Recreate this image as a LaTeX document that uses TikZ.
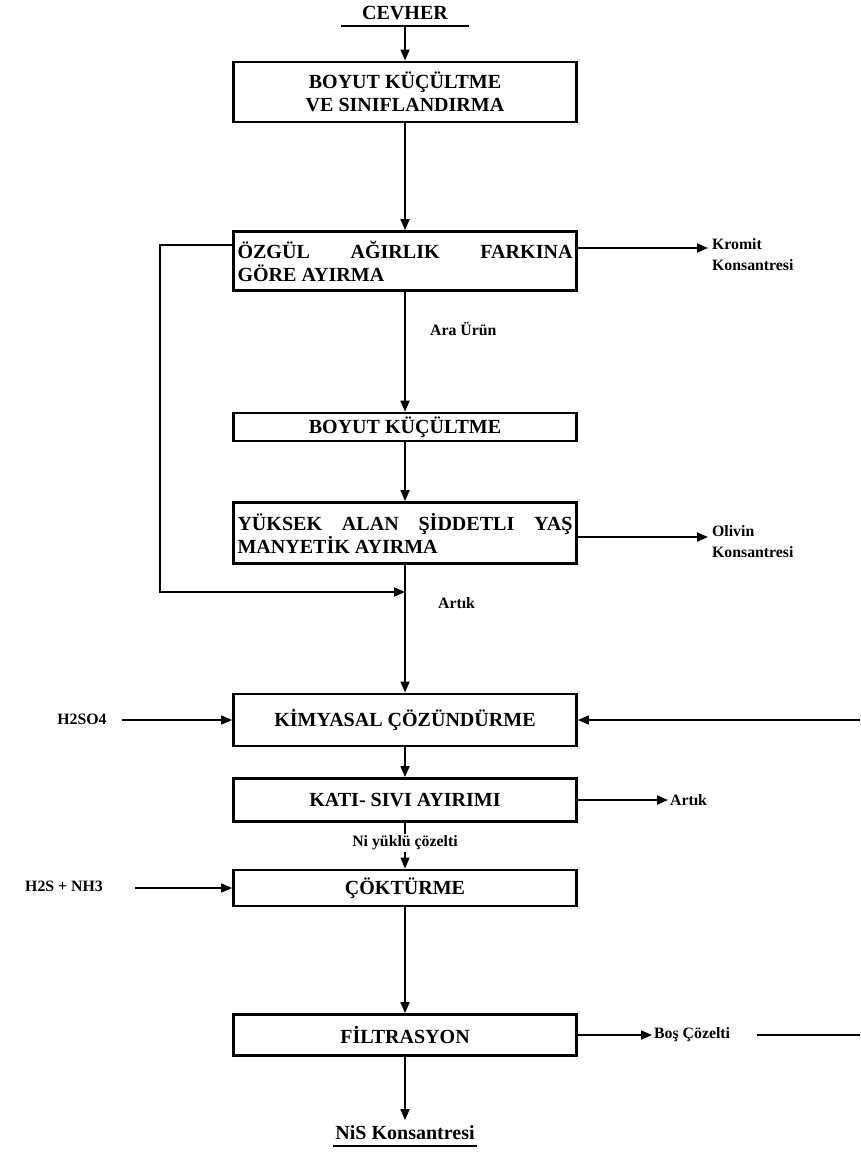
\documentclass[tikz,border=0pt]{standalone}
\usepackage{fontspec}
\setmainfont{Liberation Serif}
\usetikzlibrary{arrows.meta,positioning}

\begin{document}
\begin{tikzpicture}[
    x=0.02cm,
    y=-0.02cm,
    font=\fontsize{11.4}{13}\selectfont\bfseries,
    procbox/.style={
        draw,
        line width=1.6pt,
        minimum width=6.86cm,
        inner sep=2pt,
        align=center
    },
    widebox/.style={
        procbox,
        text width=6.7cm,
        align=justify
    },
    sidelabel/.style={
        font=\fontsize{9}{12}\selectfont\bfseries,
        inner sep=1pt,
        align=left
    },
    endlabel/.style={
        minimum width=2.56cm,
        minimum height=0.5cm,
        inner sep=1pt
    },
    flowline/.style={
        line width=1pt,
        -{Triangle[length=2.2mm,width=1.8mm]}
    },
    plainline/.style={
        line width=1pt
    }
]
\useasboundingbox (0,0) rectangle (860,1158);

% main column
\node[endlabel] (cevher) at (405,13) {CEVHER};
\node[procbox,minimum height=1.2cm] (boyut1) at (405,92)
{BOYUT KÜÇÜLTME\\VE SINIFLANDIRMA};
\node[widebox,minimum height=1.18cm] (ozgul) at (405,261)
{ÖZGÜL AĞIRLIK FARKINA\linebreak GÖRE AYIRMA\par\vspace{0.35cm}};
\node[procbox,minimum height=0.54cm] (boyut2) at (405,427)
{BOYUT KÜÇÜLTME};
\node[widebox,minimum height=1.22cm] (manyetik) at (405,533)
{YÜKSEK ALAN ŞİDDETLI YAŞ\linebreak MANYETİK AYIRMA};
\node[procbox,minimum height=1.04cm] (kimyasal) at (405,720)
{KİMYASAL ÇÖZÜNDÜRME};
\node[procbox,minimum height=0.86cm] (kati) at (405,800)
{KATI- SIVI AYIRIMI};
\node[procbox,minimum height=0.72cm] (cokturme) at (405,888)
{ÇÖKTÜRME};
\node[procbox,minimum height=0.82cm] (filtre) at (405,1035)
{FİLTRASYON};
\node[endlabel] (nis) at (405,1133) {NiS Konsantresi};

% labels
\node[sidelabel,anchor=west] (araurun) at (428,329) {Ara Ürün};
\node[sidelabel,anchor=west] (artik1) at (436,603) {Artık};
\node[sidelabel] (nicozelti) at (405,843) {Ni yüklü çözelti};
\node[sidelabel,anchor=north west] (kromit) at (710,236) {Kromit\\Konsantresi};
\node[sidelabel,anchor=north west] (olivin) at (710,523) {Olivin\\Konsantresi};
\node[sidelabel,anchor=west] (artik2) at (668,800) {Artık};
\node[sidelabel,anchor=west] (bos) at (652,1035) {Boş Çözelti};
\node[sidelabel] (h2so4) at (82,719) {H2SO4};
\node[sidelabel] (h2s) at (64,886) {H2S + NH3};

\coordinate (kromitin) at (708,248);
\coordinate (olivinin) at (708,537);
\coordinate (fbtop) at (160,245);
\coordinate (fbjoin) at (405,592);
\coordinate (rightin) at (860,720);
\coordinate (rightout) at (860,1035);

% underlines
\draw[plainline] (cevher.south west) -- (cevher.south east);
\draw[plainline] (nis.south west) -- (nis.south east);

% flow
\draw[flowline] (cevher.south) -- (boyut1.north);
\draw[flowline] (boyut1.south) -- (ozgul.north);
\draw[flowline] (ozgul.south) -- (boyut2.north);
\draw[flowline] (boyut2.south) -- (manyetik.north);
\draw[flowline] (manyetik.south) -- (kimyasal.north);
\draw[flowline] (kimyasal.south) -- (kati.north);
\draw[line width=0.6pt] (kati.south) -- (nicozelti.north);
\draw[flowline,line width=0.6pt] (nicozelti.south) -- (cokturme.north);
\draw[flowline] (cokturme.south) -- (filtre.north);
\draw[flowline] (filtre.south) -- (nis.north);

% side streams
\draw[flowline] (ozgul.east |- kromitin) -- (kromitin);
\draw[flowline] (manyetik.east |- olivinin) -- (olivinin);
\draw[flowline] (ozgul.west |- fbtop) -- (fbtop) |- (fbjoin);
\draw[flowline] ([xshift=0.26cm]h2so4.east |- kimyasal.west) -- (kimyasal.west);
\draw[flowline] (rightin) -- (kimyasal.east);
\draw[flowline] (kati.east) -- (artik2.west);
\draw[flowline] ([xshift=0.6cm]h2s.east |- cokturme.west) -- (cokturme.west);
\draw[flowline] (filtre.east) -- (bos.west);
\draw[plainline] ([xshift=0.5cm]bos.east) -- (rightout);

\end{tikzpicture}
\end{document}
